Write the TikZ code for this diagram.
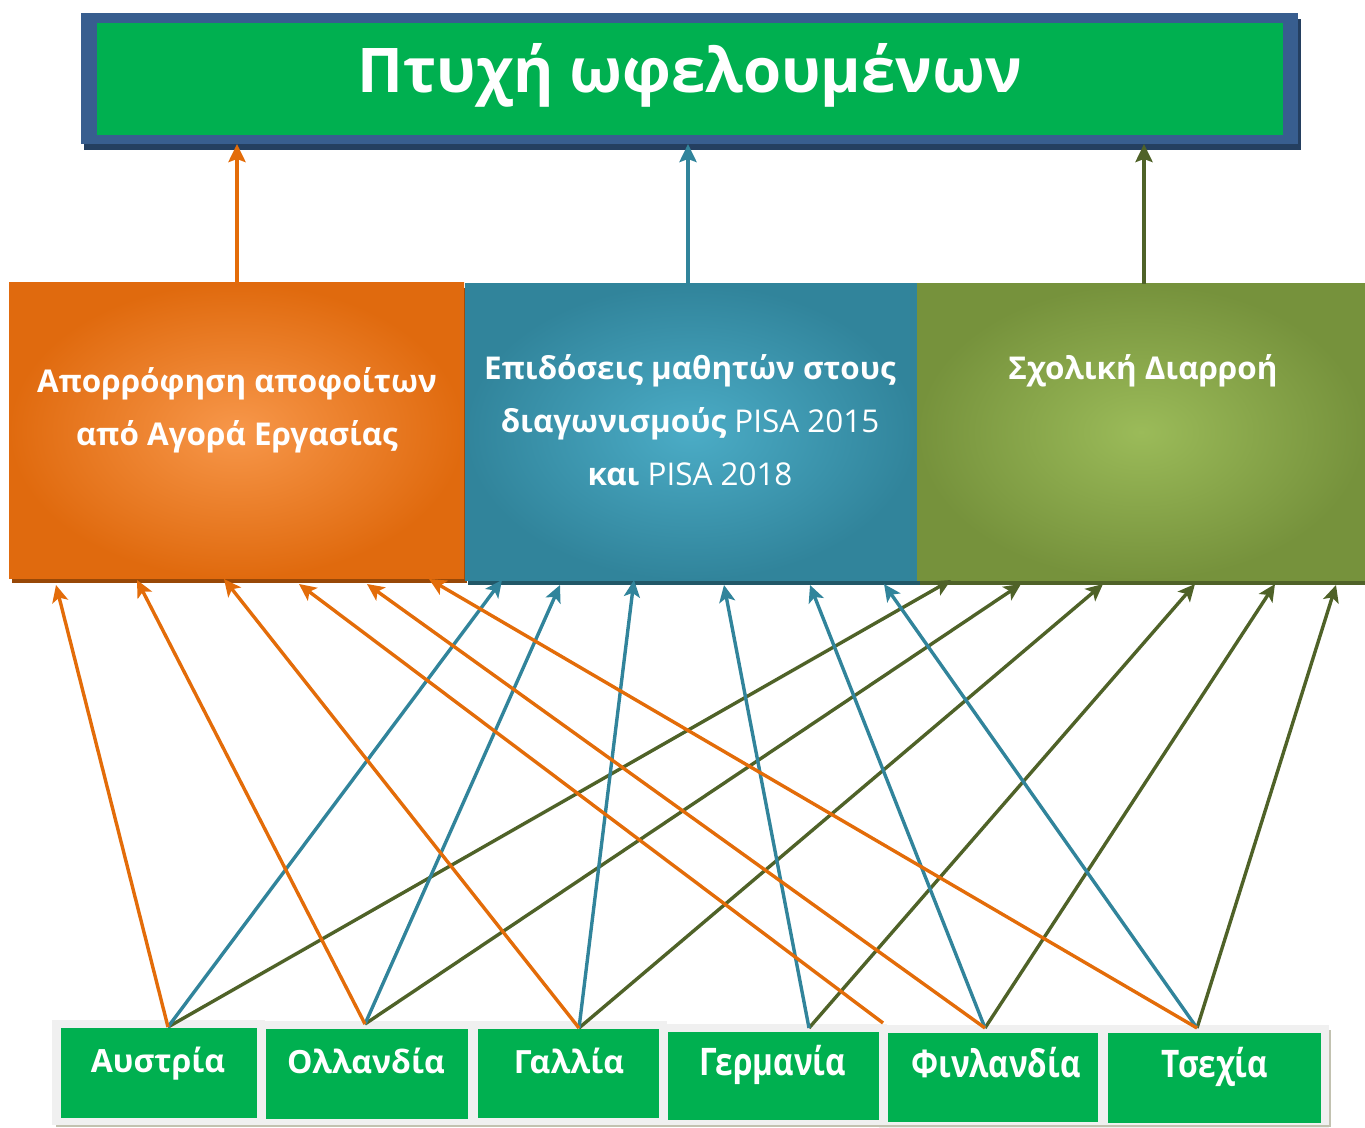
\documentclass[tikz,border=0pt]{standalone}
\usepackage{fontspec}
\setmainfont{Open Sans}
\newfontfamily\condfam{Open Sans}[FakeStretch=0.83]
\usetikzlibrary{arrows.meta,calc}

\definecolor{topBlue}{HTML}{385E8F}
\definecolor{topShadow}{HTML}{243F60}
\definecolor{boxGreen}{HTML}{00B050}
\definecolor{orEdge}{HTML}{E06A0E}
\definecolor{orMid}{HTML}{F7974A}
\definecolor{orShadow}{HTML}{984807}
\definecolor{blEdge}{HTML}{31849B}
\definecolor{blMid}{HTML}{4BACC6}
\definecolor{blShadow}{HTML}{215868}
\definecolor{grEdge}{HTML}{76923C}
\definecolor{grMid}{HTML}{9BBB59}
\definecolor{grShadow}{HTML}{4F6228}
\definecolor{lnOrange}{HTML}{E36C09}
\definecolor{lnBlue}{HTML}{31849B}
\definecolor{lnGreen}{HTML}{4F6228}
\definecolor{cellGray}{HTML}{F0F0F0}
\definecolor{cellEdge}{HTML}{C2C2B0}

\begin{document}
\begin{tikzpicture}[x=0.5pt,y=-0.5pt,
  every node/.style={inner sep=0pt,outer sep=0pt},
  plainbox/.style={rectangle,draw=none},
  midbox/.style={rectangle,draw=none,minimum height=147.5pt},
  cbox/.style={rectangle,draw=none,fill=boxGreen},
  wtext/.style={text=white,font=\bfseries\fontsize{15.7}{26.25}\selectfont,align=center,anchor=base},
  ctext/.style={text=white,font=\bfseries\fontsize{16}{20}\selectfont,anchor=base},
  cctext/.style={text=white,font=\condfam\bfseries\fontsize{19}{22}\selectfont,anchor=base},
  uparrow/.style={-{Stealth[length=9pt,width=8.5pt,inset=1.5pt]},line width=2.3pt},
  link/.style={-{Stealth[length=8.5pt,width=8pt,inset=2pt]},line width=1.7pt},
]
\useasboundingbox (0,0) rectangle (1365,1128);

% ---- title bar ----
\fill[topShadow] (84,19) rectangle (1301,150);
\node[plainbox,fill=topBlue,minimum width=608.5pt,minimum height=65.5pt] (top) at (689.5,78.5) {};
\node[plainbox,fill=boxGreen,minimum width=593pt,minimum height=56pt] (topin) at (690,79) {};
\node[text=white,font=\bfseries\fontsize{30.8}{36}\selectfont,anchor=base] (title) at (690,93) {Πτυχή ωφελουμένων};

% ---- three criteria ----
\fill[orShadow] (12,288) rectangle (467,583);
\fill[blShadow] (468,289) rectangle (920,585);
\fill[grShadow] (920,289) rectangle (1368,585);
\node[midbox,minimum width=227.5pt,inner color=orMid,outer color=orEdge] (orange) at (236.5,430.5) {};
\node[midbox,minimum width=226pt,minimum height=148pt,inner color=blMid,outer color=blEdge] (blue) at (691,432) {};
\node[midbox,minimum width=224pt,minimum height=148pt,inner color=grMid,outer color=grEdge] (green) at (1141,432) {};

% multi-line labels are anchored on the baseline of their last line
\node[wtext] (orangeTxt) at (237,445) {Απορρόφηση αποφοίτων\\από Αγορά Εργασίας};
\node[wtext] (blueTxt) at (690,485) {Επιδόσεις μαθητών στους\\διαγωνισμούς {\mdseries PISA 2015}\\και {\mdseries PISA 2018}};
\node[wtext] (greenTxt) at (1143,380) {Σχολική Διαρροή};

% ---- countries ----
\foreach \xa/\ya/\xb/\yb in {61/1028/257/1118, 266/1029/468/1119, 478/1029/659/1118,
                             668/1032/879/1120, 888/1033/1098/1122, 1108/1033/1321/1123}
  \fill[cellGray] (\xa-9,\ya-8) rectangle (\xb+8,\yb+7);
\draw[cellEdge,line width=1pt] (56,1126) -- (1330,1126) -- (1330,1030);

\node[cbox,minimum width=98pt,minimum height=45pt] (aus) at (159,1073) {};
\node[cbox,minimum width=101pt,minimum height=45pt] (ned) at (367,1074) {};
\node[cbox,minimum width=90.5pt,minimum height=44.5pt] (fra) at (568.5,1073.5) {};
\node[cbox,minimum width=105.5pt,minimum height=44pt] (ger) at (773.5,1076) {};
\node[cbox,minimum width=105pt,minimum height=44.5pt] (fin) at (993,1077.5) {};
\node[cbox,minimum width=106.5pt,minimum height=45pt] (cze) at (1214.5,1078) {};

\node[ctext] (ausTxt) at (158,1072) {Αυστρία};
\node[ctext] (nedTxt) at (366,1073) {Ολλανδία};
\node[ctext] (fraTxt) at (569,1073) {Γαλλία};
\node[cctext] (gerTxt) at (773,1075) {Γερμανία};
\node[cctext] (finTxt) at (996,1077) {Φινλανδία};
\node[cctext] (czeTxt) at (1215,1077) {Τσεχία};

% ---- link end points ----
\coordinate (ausP) at (168,1027);
\coordinate (nedP) at (365,1024);
\coordinate (fraP) at (579,1028);
\coordinate (gerP) at (809,1028);
\coordinate (gerQ) at (883,1023);
\coordinate (finP) at (985,1028);
\coordinate (czeP) at (1197,1028);

\coordinate (o1) at (56,585);  \coordinate (o2) at (137,580); \coordinate (o3) at (224,579);
\coordinate (o4) at (299,584); \coordinate (o5) at (367,584); \coordinate (o6) at (429,579);
\coordinate (b1) at (502,580); \coordinate (b2) at (560,585); \coordinate (b3) at (634,580);
\coordinate (b4) at (724,585); \coordinate (b5) at (810,585); \coordinate (b6) at (884,584);
\coordinate (g1) at (951,580); \coordinate (g2) at (1021,584); \coordinate (g3) at (1103,584);
\coordinate (g4) at (1195,584); \coordinate (g5) at (1275,584); \coordinate (g6) at (1336,585);

% ---- links from countries ----
\draw[link,lnGreen] (ausP) -- (g1);
\draw[link,lnGreen] (nedP) -- (g2);
\draw[link,lnGreen] (fraP) -- (g3);
\draw[link,lnGreen] (gerP) -- (g4);
\draw[link,lnGreen] (finP) -- (g5);
\draw[link,lnGreen] (czeP) -- (g6);

\draw[link,lnBlue] (ausP) -- (b1);
\draw[link,lnBlue] (nedP) -- (b2);
\draw[link,lnBlue] (fraP) -- (b3);
\draw[link,lnBlue] (gerP) -- (b4);
\draw[link,lnBlue] (finP) -- (b5);
\draw[link,lnBlue] (czeP) -- (b6);

\draw[link,lnOrange] (ausP) -- (o1);
\draw[link,lnOrange] (nedP) -- (o2);
\draw[link,lnOrange] (fraP) -- (o3);
\draw[link,lnOrange] (gerQ) -- (o4);
\draw[link,lnOrange] (finP) -- (o5);
\draw[link,lnOrange] (czeP) -- (o6);

% ---- links up to the title bar ----
\coordinate (upO) at (237,283);
\coordinate (upB) at (688,284);
\coordinate (upG) at (1144,284);
\draw[uparrow,lnOrange] (upO) -- (upO |- top.south);
\draw[uparrow,lnBlue] (upB) -- (upB |- top.south);
\draw[uparrow,lnGreen] (upG) -- (upG |- top.south);
\end{tikzpicture}
\end{document}
